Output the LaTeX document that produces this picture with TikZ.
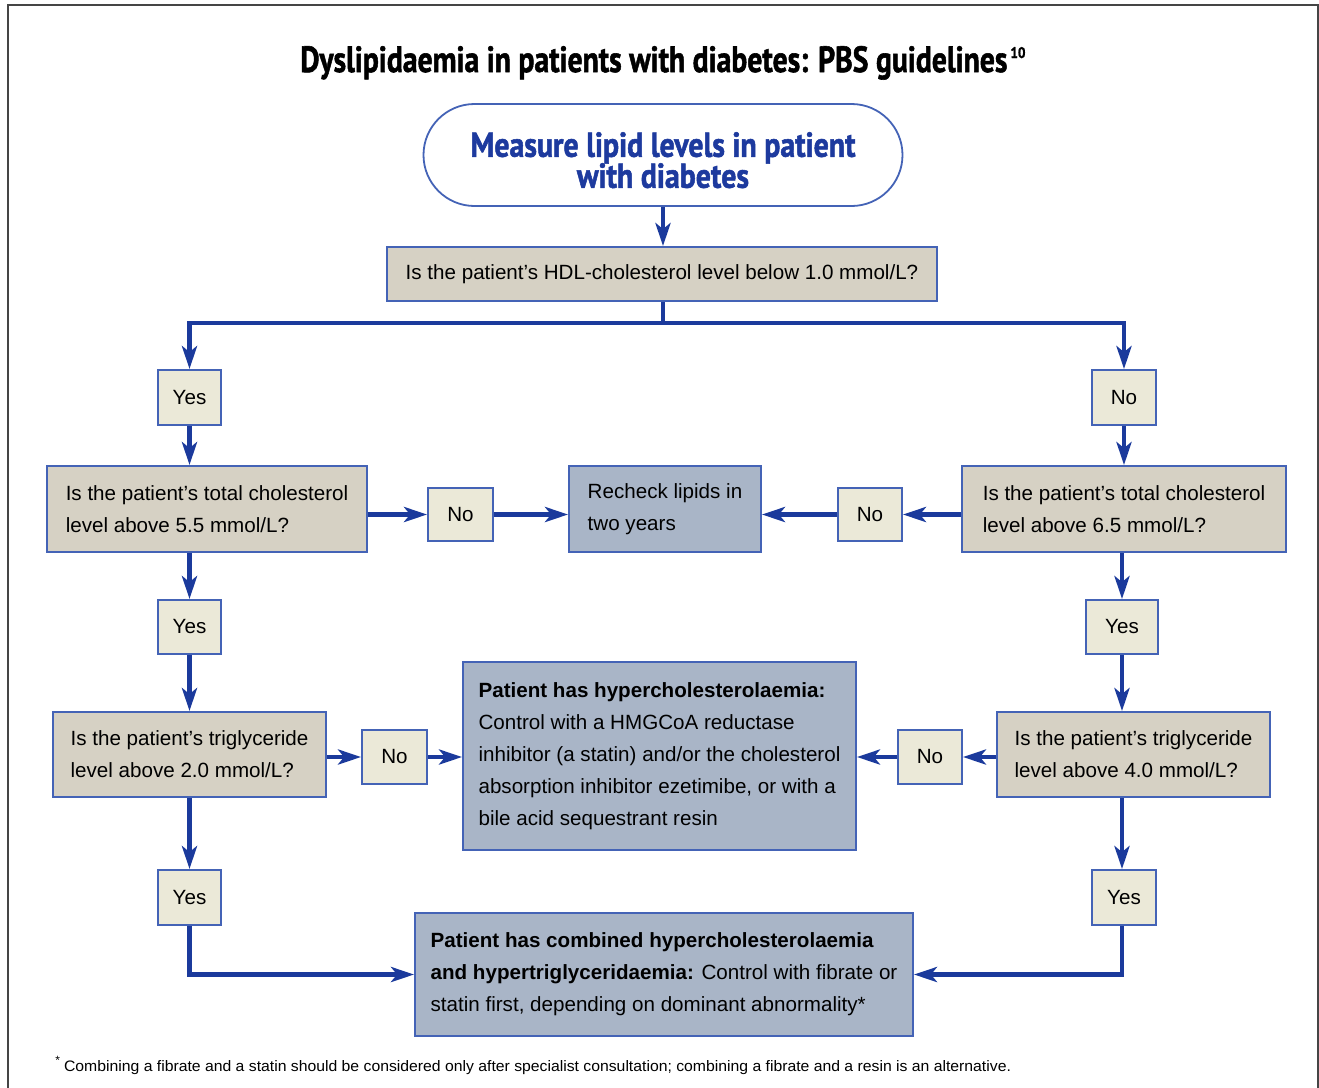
\documentclass[tikz,border=0pt]{standalone}
\usepackage{fontspec}
\setmainfont{Liberation Sans}
\newfontfamily\condfont[BoldFeatures={FakeBold=1.6}]{PT Sans}
\usetikzlibrary{arrows.meta}

\definecolor{navy}{HTML}{1B3A9C}
\definecolor{tanfill}{HTML}{D6D1C4}
\definecolor{ansfill}{HTML}{EBE9D8}
\definecolor{resfill}{HTML}{A9B5C7}
\definecolor{edgeblue}{HTML}{4463B6}
\definecolor{framegray}{HTML}{454545}
\definecolor{headblue}{HTML}{1D3A9E}

\newcommand\bodyfont{\fontsize{10.3pt}{16pt}\selectfont}

\tikzset{
  box/.style={draw=edgeblue, line width=0.9pt, inner sep=0pt, font=\bodyfont},
  question/.style={box, fill=tanfill, align=left},
  answer/.style={box, fill=ansfill},
  result/.style={box, fill=resfill, align=left},
  stadium/.style={draw=edgeblue, line width=0.9pt, fill=white, rounded corners=25.5pt,
    inner sep=0pt, align=center, text=headblue,
    font={\lineskiplimit=-50pt\fontsize{10pt}{15.5pt}\selectfont}},
  link/.style={draw=navy, line width=2.4pt},
  conn/.style={link, -{Stealth[length=11.5pt,width=7.5pt,inset=3pt]}},
}

\begin{document}
\begin{tikzpicture}[x=0.5pt, y=-0.5pt]
\useasboundingbox (0,0) rectangle (1319,1088);

% outer frame (open at the bottom)
\draw[framegray, line width=1pt] (8,1088) -- (8,5) -- (1317.5,5) -- (1317.5,1088);

% heading
\node[anchor=base west, inner sep=0pt] (title) at (300,72)
  {\resizebox{353.5pt}{13pt}{\condfont\bfseries Dyslipidaemia in patients with diabetes: PBS guidelines}%
   \kern1.5pt\raisebox{7pt}{\resizebox{7.5pt}{5.5pt}{\condfont\bfseries 10}}};

% start
\node[stadium, minimum width=239.5pt, minimum height=51pt] (start) at (663,155)
  {\rule{0pt}{17.5pt}\resizebox{192.5pt}{12.3pt}{\condfont\bfseries Measure lipid levels in patient}\\
   \resizebox{86pt}{12.3pt}{\condfont\bfseries with diabetes}};

% HDL question
\node[question, align=center, minimum width=275pt, minimum height=27pt] (hdl) at (662,274)
  {Is the patient’s HDL-cholesterol level below 1.0 mmol/L?};
\coordinate (split) at (663,323);

% first answers
\node[answer, minimum width=31.5pt, minimum height=27.5pt] (yesL1) at (189.5,397.5) {Yes};
\node[answer, minimum width=32pt, minimum height=27.5pt] (noR1) at (1124,397.5) {No};

% total cholesterol questions
\node[question, minimum width=160pt, minimum height=43pt] (tcL) at (207,509)
  {Is the patient’s total cholesterol\\level above 5.5 mmol/L?};
\node[question, minimum width=162pt, minimum height=43pt] (tcR) at (1124,509)
  {Is the patient’s total cholesterol\\level above 6.5 mmol/L?};
\node[result, minimum width=96pt, minimum height=43pt] (recheck) at (665,509)
  {Recheck lipids in\\two years};
\node[answer, minimum width=32.5pt, minimum height=26.5pt] (noM1) at (460.5,514.5) {No};
\node[answer, minimum width=32pt, minimum height=26.5pt] (noM2) at (870,514.5) {No};

% second answers
\node[answer, minimum width=31.5pt, minimum height=27pt] (yesL2) at (189.5,627) {Yes};
\node[answer, minimum width=36pt, minimum height=27pt] (yesR2) at (1122,627) {Yes};

% triglyceride questions
\node[question, minimum width=136.5pt, minimum height=42.5pt] (tgL) at (189.5,754.5)
  {Is the patient’s triglyceride\\level above 2.0 mmol/L?};
\node[question, minimum width=136.5pt, minimum height=42.5pt] (tgR) at (1133.5,754.5)
  {Is the patient’s triglyceride\\level above 4.0 mmol/L?};
\node[result, minimum width=196.5pt, minimum height=94pt] (hyper) at (659.5,756)
  {\textbf{Patient has hypercholesterolaemia:}\\
   Control with a HMGCoA reductase\\
   inhibitor (a statin) and/or the cholesterol\\
   absorption inhibitor ezetimibe, or with a\\
   bile acid sequestrant resin};
\node[answer, minimum width=32.5pt, minimum height=27pt] (noL3) at (394.5,757) {No};
\node[answer, minimum width=32pt, minimum height=27pt] (noR3) at (930,757) {No};

% third answers
\node[answer, minimum width=31.5pt, minimum height=27.5pt] (yesL3) at (189.5,897.5) {Yes};
\node[answer, minimum width=32pt, minimum height=27.5pt] (yesR3) at (1124,897.5) {Yes};

% combined outcome
\node[result, minimum width=249pt, minimum height=61.5pt] (comb) at (664,974.5)
  {\textbf{Patient has combined hypercholesterolaemia}\\
   \textbf{and hypertriglyceridaemia:} Control with fibrate or\\
   statin first, depending on dominant abnormality*};

% footnote
\node[anchor=base west, inner sep=0pt] (note) at (55,1071)
  {\raisebox{3.2pt}{\fontsize{6}{6}\selectfont *}\kern2pt%
   \resizebox{473.5pt}{5.5pt}{\fontsize{8pt}{8pt}\selectfont Combining a fibrate and a statin should be considered only after specialist consultation; combining a fibrate and a resin is an alternative.}};

% connectors
\draw[conn] (start.south) -- (start.south |- hdl.north);
\draw[link] (hdl.south -| split) -- (split);
\draw[conn] (split) -| (yesL1.north);
\draw[conn] (split) -| (noR1.north);

\draw[conn] (yesL1.south) -- (yesL1.south |- tcL.north);
\draw[conn] (noR1.south) -- (noR1.south |- tcR.north);

\draw[conn] (noM1.west -| tcL.east) -- (noM1.west);
\draw[conn] (noM1.east) -- (noM1.east -| recheck.west);
\draw[conn] (noM2.east -| tcR.west) -- (noM2.east);
\draw[conn] (noM2.west) -- (noM2.west -| recheck.east);

\draw[conn] (tcL.south -| yesL2) -- (yesL2.north);
\draw[conn] (tcR.south -| yesR2) -- (yesR2.north);
\draw[conn] (yesL2.south) -- (yesL2.south |- tgL.north);
\draw[conn] (yesR2.south) -- (yesR2.south |- tgR.north);

\draw[conn] (noL3.west -| tgL.east) -- (noL3.west);
\draw[conn] (noL3.east) -- (noL3.east -| hyper.west);
\draw[conn] (noR3.east -| tgR.west) -- (noR3.east);
\draw[conn] (noR3.west) -- (noR3.west -| hyper.east);

\draw[conn] (tgL.south -| yesL3) -- (yesL3.north);
\draw[conn] (tgR.south -| yesR2) -- (yesR2 |- yesR3.north);
\draw[conn] (yesL3.south) |- (comb.west);
\draw[conn] (yesR2 |- yesR3.south) |- (comb.east);
\end{tikzpicture}
\end{document}
